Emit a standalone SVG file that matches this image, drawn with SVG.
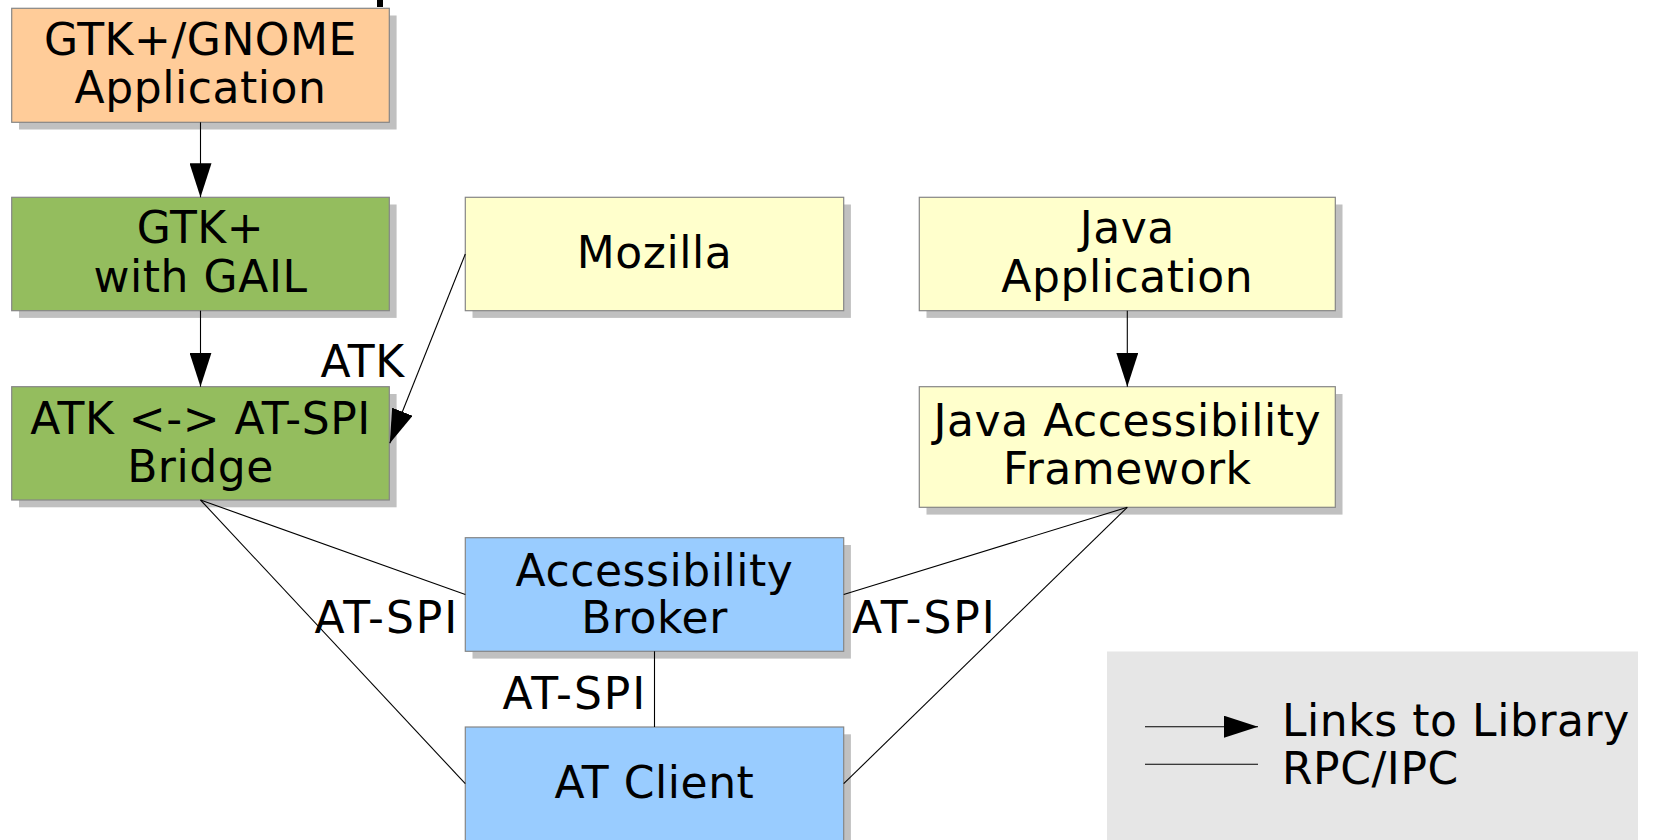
<svg xmlns="http://www.w3.org/2000/svg" width="1653" height="840" viewBox="0 0 1653 840">
<style>
.box{stroke:#868686;stroke-width:1.2}
.sh{fill:#c0c0c0}
.t{font-family:"DejaVu Sans",Verdana,sans-serif;font-size:44px;letter-spacing:0.55px;fill:#000}
.m{text-anchor:middle}
.w{letter-spacing:2px}
.c{stroke:#000;stroke-width:1.1;fill:none}
.orange{fill:#ffcc99}
.green{fill:#94bd5e}
.yellow{fill:#ffffcc}
.blue{fill:#99ccff}
</style>
<defs>
<marker id="ah" markerUnits="userSpaceOnUse" markerWidth="34" markerHeight="22" viewBox="0 0 34 22" refX="34" refY="11" orient="auto">
<path d="M0,0 L34,11 L0,22 Z" fill="#000"/>
</marker>
</defs>
<rect width="1653" height="840" fill="#fff"/>
<rect x="377" y="0" width="6" height="7" fill="#000"/>
<g id="legend">
<rect x="1107" y="651.5" width="531" height="190" fill="#e6e6e6"/>
<line class="c" x1="1145" y1="726.7" x2="1258" y2="726.7" marker-end="url(#ah)"/>
<line class="c" x1="1145" y1="764.3" x2="1258" y2="764.3"/>
<text class="t" x="1282" y="736">Links to Library</text>
<text class="t" x="1282" y="784">RPC/IPC</text>
</g>
<g id="gnome-app">
<rect class="sh" x="19" y="15.5" width="377.6" height="114"/>
<rect class="box orange" x="11.7" y="8.3" width="377.6" height="114"/>
<text class="t m" x="200.5" y="55.3">GTK+/GNOME</text>
<text class="t m" x="200.5" y="103.3">Application</text>
</g>
<g id="gtk-gail">
<rect class="sh" x="19" y="204.5" width="377.6" height="113.4"/>
<rect class="box green" x="11.7" y="197.3" width="377.6" height="113.4"/>
<text class="t m" x="200.5" y="243.3">GTK+</text>
<text class="t m" x="200.5" y="291.7">with GAIL</text>
</g>
<g id="bridge">
<rect class="sh" x="19" y="394" width="377.6" height="113.3"/>
<rect class="box green" x="11.7" y="386.7" width="377.6" height="113.3"/>
<text class="t m" x="200.5" y="434">ATK &lt;-&gt; AT-SPI</text>
<text class="t m" x="200.5" y="481.7">Bridge</text>
</g>
<g id="mozilla">
<rect class="sh" x="472.5" y="204.5" width="378.4" height="113.4"/>
<rect class="box yellow" x="465.3" y="197.3" width="378.4" height="113.4"/>
<text class="t m" x="654.5" y="268.3">Mozilla</text>
</g>
<g id="java-app">
<rect class="sh" x="926.5" y="204.5" width="416" height="113.4"/>
<rect class="box yellow" x="919.3" y="197.3" width="416" height="113.4"/>
<text class="t m" x="1127.3" y="243.3">Java</text>
<text class="t m" x="1127.3" y="291.7">Application</text>
</g>
<g id="java-framework">
<rect class="sh" x="926.5" y="394" width="416" height="120.6"/>
<rect class="box yellow" x="919.3" y="386.7" width="416" height="120.6"/>
<text class="t m" x="1127.3" y="436">Java Accessibility</text>
<text class="t m" x="1127.3" y="484">Framework</text>
</g>
<g id="broker">
<rect class="sh" x="472.5" y="545" width="378.4" height="113.6"/>
<rect class="box blue" x="465.3" y="537.7" width="378.4" height="113.6"/>
<text class="t m" x="654.5" y="586">Accessibility</text>
<text class="t m" x="654.5" y="633.3">Broker</text>
</g>
<g id="at-client">
<rect class="sh" x="472.5" y="734.3" width="378.4" height="113.6"/>
<rect class="box blue" x="465.3" y="727" width="378.4" height="113.6"/>
<text class="t m" x="654.5" y="797.7">AT Client</text>
</g>
<g id="connectors">
<line class="c" x1="200.5" y1="122.3" x2="200.5" y2="197.3" marker-end="url(#ah)"/>
<line class="c" x1="200.5" y1="310.7" x2="200.5" y2="386.7" marker-end="url(#ah)"/>
<line class="c" x1="1127.3" y1="310.7" x2="1127.3" y2="386.7" marker-end="url(#ah)"/>
<line class="c" x1="465.3" y1="254" x2="389.8" y2="443.3" marker-end="url(#ah)"/>
<line class="c" x1="200.5" y1="500" x2="465.3" y2="594.5"/>
<line class="c" x1="200.5" y1="500" x2="465.3" y2="783.7"/>
<line class="c" x1="1127.3" y1="507.3" x2="843.7" y2="594.5"/>
<line class="c" x1="1127.3" y1="507.3" x2="843.7" y2="783.7"/>
<line class="c" x1="654.5" y1="651.3" x2="654.5" y2="727"/>
<text class="t" x="320.5" y="376.7">ATK</text>
<text class="t w" x="314.5" y="632.7">AT-SPI</text>
<text class="t w" x="502.5" y="709.3">AT-SPI</text>
<text class="t w" x="852" y="632.7">AT-SPI</text>
</g>
</svg>
